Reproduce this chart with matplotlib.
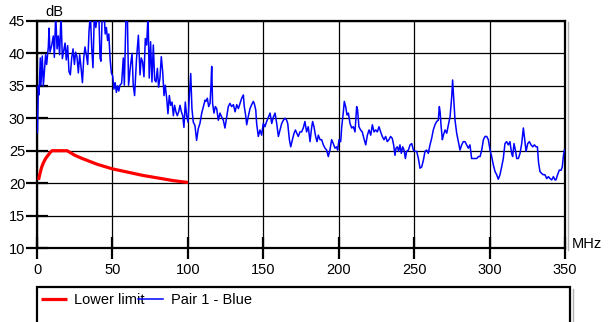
import matplotlib
matplotlib.use("Agg")
import matplotlib.pyplot as plt
from matplotlib.patches import Rectangle
from matplotlib.lines import Line2D

plt.rcParams['font.family'] = ['Liberation Sans', 'DejaVu Sans']

# limit line (return loss, dB)
limit_mhz = [1, 2, 3, 4, 5, 6, 7, 8, 9, 10, 20, 25, 30, 40, 50, 60, 70, 80, 90, 100]
limit_db = [20.5, 21.5, 22.4, 23.0, 23.5, 23.9, 24.2, 24.5, 24.8, 25.0, 25.0, 24.3,
            23.8, 22.9, 22.2, 21.7, 21.2, 20.8, 20.4, 20.1]

# measured pair 1 - blue
pair_mhz = [
    0.3, 0.9, 1.3, 2.2, 2.6, 3.5, 4.2, 4.9, 5.7, 6.4, 7.5, 8.0, 8.6, 9.7, 10.8, 11.5,
    12.4, 13.3, 14.1, 15.0, 15.9, 16.8, 17.7, 18.6, 19.4, 20.3, 21.2, 22.1, 23.0, 23.9,
    24.8, 25.6, 26.5, 27.4, 28.3, 29.2, 30.1, 31.0, 31.8, 32.7, 33.6, 34.5, 35.4, 36.3,
    37.1, 38.0, 39.0, 40.0, 41.0, 41.8, 42.4, 43.2, 44.5, 45.2, 46.0, 46.8, 47.6, 48.5,
    49.3, 50.2, 51.0, 51.8, 52.6, 53.4, 54.2,
    55.0, 56.1, 57.2, 57.9, 59.0, 59.9, 60.7, 62.0, 63.0, 63.8, 64.7, 66.0, 67.2, 68.3,
    69.1, 70.0, 70.9, 71.8, 72.7, 73.6, 74.4, 75.3, 76.2, 77.1, 78.0, 78.9, 79.8, 80.6,
    81.5, 82.4, 83.3, 84.2, 85.0, 86.0, 86.8, 87.7, 88.6, 89.5, 90.4, 91.2, 92.1, 93.0,
    93.9, 94.8, 95.7, 96.6, 97.4, 98.3, 99.2, 100.1, 101.0, 101.9, 102.7, 103.6, 104.7,
    105.8, 106.9,
    108.0, 109.2, 110.3, 111.4, 112.0, 112.9, 113.8, 114.7, 115.3, 115.8, 116.4, 117.3,
    118.2, 119.1, 120.2, 121.3, 122.4, 123.5, 124.6, 125.7, 126.8, 127.9, 129.0, 130.2,
    131.3, 132.4, 133.5, 134.6, 135.7, 136.8, 137.4, 138.3, 139.0, 140.0, 141.2, 142.3,
    143.4, 144.0, 145.0, 145.6, 146.7, 147.8, 148.9, 150.0, 151.1, 152.2, 153.4, 154.5,
    155.6, 156.7, 157.8, 158.9, 160.0, 161.1, 162.2, 163.3, 164.4, 165.5, 166.2, 167.3,
    168.2, 169.3, 170.4,
    171.3, 172.2, 173.2, 174.3, 175.4, 176.5, 177.6, 178.7, 179.8, 181.0, 182.0, 182.7,
    183.6, 184.7, 185.6, 186.5, 187.6, 188.7, 189.8, 190.9, 192.0, 193.1, 194.2, 195.3,
    196.4, 197.5, 198.6, 199.3, 200.2, 201.3, 202.0, 203.0, 203.7, 204.6, 205.5, 206.4,
    207.5, 208.6, 209.7, 210.8, 211.9, 212.5, 213.4, 214.5, 215.6, 216.7, 217.9, 219.0,
    220.1, 221.2, 222.3, 223.4, 224.5, 225.6, 226.7, 227.8, 228.9, 230.0, 231.1, 232.2,
    233.3,
    234.4, 235.5, 236.4, 237.3, 238.0, 238.9, 239.7, 240.6, 241.5, 242.4, 243.3, 244.2,
    245.0, 246.2, 247.3, 248.4, 249.5, 250.6, 251.7, 252.8, 253.9, 255.0, 256.1, 257.2,
    258.3, 259.4, 260.5, 261.6, 262.7, 263.8, 264.9, 266.0, 266.7, 267.2, 267.8, 268.7,
    269.4, 270.5, 271.6, 272.7, 273.8, 274.9, 275.5, 276.2, 277.1, 278.2, 279.3, 280.4,
    281.5, 282.6, 283.7, 284.8, 285.9, 287.0, 288.1, 289.2, 290.4, 291.5, 292.6, 293.7,
    294.8, 295.9, 297.0, 298.1, 299.2, 300.3, 301.4, 302.5, 303.6, 304.7, 305.8, 306.9,
    308.0, 309.1, 310.2, 311.3, 312.4, 313.5, 314.6, 315.3, 316.2, 317.1, 318.0, 319.1,
    320.2, 321.3, 322.4, 323.3, 324.2, 325.3, 326.4, 327.5, 328.6, 329.7, 330.8, 331.7,
    332.5, 333.4, 334.5, 335.6, 336.7, 337.9, 339.0, 340.1, 341.2, 342.3, 343.4, 344.0,
    345.1, 346.2, 347.4, 348.2, 349.0, 349.6,
]
pair_db = [
    27.8, 35.0, 33.6, 39.3, 35.1, 39.6, 35.0, 37.2, 39.8, 38.3, 41.0, 43.9, 40.2, 41.2, 42.7, 39.4,
    46.0, 40.7, 42.7, 39.8, 46.0, 39.2, 40.4, 41.6, 39.0, 41.2, 37.2, 36.7, 39.3, 40.7,
    38.3, 40.2, 39.5, 37.0, 39.8, 37.8, 35.5, 39.3, 41.0, 39.8, 38.3, 43.5, 46.0, 40.7,
    37.8, 46.0, 44.0, 46.0, 46.0, 39.3, 38.8, 46.0, 46.0, 43.0, 44.0, 42.0, 43.0, 39.0,
    37.0, 36.5, 34.5, 35.5, 34.0, 35.0, 34.2,
    35.1, 35.4, 39.3, 35.1, 46.0, 46.0, 35.1, 38.2, 40.0, 35.1, 33.5, 39.3, 42.8, 36.7,
    39.3, 38.7, 36.4, 42.3, 41.3, 46.0, 36.2, 41.8, 35.6, 41.3, 35.9, 35.6, 37.7, 34.8,
    36.2, 39.5, 37.2, 33.5, 35.1, 33.0, 30.7, 33.5, 32.0, 32.5, 30.4, 32.0, 31.0, 30.4,
    31.0, 32.0, 31.0, 30.4, 28.6, 32.5, 30.4, 29.4, 33.5, 36.9, 31.5, 29.4, 28.9,
    26.6, 28.4,
    29.2, 30.8, 31.8, 32.8, 32.6, 33.1, 31.8, 32.3, 34.9, 38.0, 32.3, 30.8,
    31.8, 31.5, 29.7, 30.8, 30.2, 29.7, 28.5, 30.2, 31.8, 32.3, 31.8, 32.1,
    31.0, 32.1, 31.5, 32.3, 33.1, 33.6, 31.8, 30.5, 29.0, 30.2, 31.5, 32.1,
    32.6, 32.3, 31.3, 29.2, 27.2, 28.2, 27.4, 29.2, 28.7, 29.5, 30.2, 30.8,
    29.2, 30.2, 30.8, 29.2, 27.2, 28.2, 29.2, 29.7, 30.0, 29.7, 29.2, 26.7,
    25.6, 26.7, 27.7,
    28.2, 27.7, 27.2, 27.9, 27.9, 28.5, 29.5, 27.9, 28.7, 26.4, 28.5, 29.5,
    28.7, 27.2, 26.4, 27.4, 26.7, 26.7, 25.9, 25.4, 25.1, 24.1, 25.1, 26.7,
    26.1, 25.4, 25.6, 25.1, 26.7, 26.4, 28.7, 30.8, 32.6, 31.8, 30.5, 30.8,
    29.2, 28.5, 28.7, 27.9, 31.8, 31.3, 28.7, 28.2, 27.9, 26.9, 25.9, 27.4,
    28.2, 27.4, 29.0, 27.9, 28.2, 27.9, 28.7, 27.9, 27.2, 26.7, 27.2, 26.4,
    26.7,
    27.2, 26.9, 25.9, 24.3, 25.4, 25.6, 24.9, 25.9, 24.6, 25.6, 25.1, 23.8,
    24.9, 25.1, 25.9, 26.1, 25.1, 24.9, 24.9, 23.8, 22.3, 22.5, 23.5, 24.9,
    25.1, 24.6, 25.9, 26.9, 28.2, 29.0, 29.5, 29.7, 31.8, 31.0, 29.0, 26.7,
    27.4, 28.2, 27.7, 29.0, 30.2, 33.3, 35.9, 33.3, 29.7, 27.7, 26.4, 25.1,
    25.9, 26.4, 26.4, 25.9, 25.4, 25.9, 23.8, 23.8, 23.8, 23.8, 24.1, 24.1,
    25.1, 26.7, 27.2, 27.2, 26.7, 25.1, 24.1, 22.8, 21.8, 21.3, 20.6, 21.3,
    22.5, 23.8, 26.1, 26.4, 25.9, 26.4, 24.6, 24.1, 26.1, 25.1, 23.8, 23.8,
    24.6, 26.1, 28.5, 26.7, 24.9, 26.1, 26.4, 25.9, 25.6, 25.9, 25.6, 25.6,
    23.1, 21.8, 21.5, 21.3, 21.3, 20.7, 21.0, 20.7, 20.5, 21.0, 20.5, 20.5,
    21.3, 22.0, 22.0, 22.5, 24.3, 25.1,
]

x_ticks = [0, 50, 100, 150, 200, 250, 300, 350]
y_ticks = [10, 15, 20, 25, 30, 35, 40, 45]

fig = plt.figure(figsize=(6.08, 3.22), dpi=100)
ax = fig.add_axes([37/608, 1 - 248/322, 528/608, 227/322])

red, = ax.plot(limit_mhz, limit_db, color='#ff0000', lw=2.3, label='Lower limit',
               solid_capstyle='butt', zorder=3)
blue, = ax.plot(pair_mhz, pair_db, color='#0000ff', lw=1.1, label='Pair 1 - Blue', zorder=4)

ax.set_xlim(0, 350)
ax.set_ylim(10, 45)
ax.set_xticks(x_ticks)
ax.set_yticks(y_ticks)
ax.grid(True, color='black', lw=0.9)
ax.set_axisbelow(True)
for s in ax.spines.values():
    s.set_linewidth(1.6)
    s.set_color('black')
ax.tick_params(axis='both', direction='inout', length=16, width=1.6, labelsize=10.5,
               colors='black')
ax.tick_params(axis='y', pad=0.5)
ax.tick_params(axis='x', pad=2.5)

ax.text(0.015, 1.01, 'dB', transform=ax.transAxes, fontsize=10.5, ha='left', va='bottom')
ax.text(1.012, 0.018, 'MHz', transform=ax.transAxes, fontsize=10.5, ha='left', va='center')

# grey drop shadow on the right edge of the plot frame
fig.add_artist(Line2D([567.5/608, 567.5/608], [1 - 250/322, 1 - 22/322],
                      transform=fig.transFigure, color='#b0b0b0', lw=1.0))

# legend box under the plot
fig.patches.append(Rectangle((37/608, -0.05), 533/608, 0.05 + (322 - 287)/322,
                             transform=fig.transFigure, fill=False, ec='black', lw=1.6))
fig.add_artist(Line2D([572.5/608, 572.5/608], [0, 1 - 289/322],
                      transform=fig.transFigure, color='#b0b0b0', lw=1.0))
fig.legend(handles=[red, blue], ncol=2, loc='center left',
           bbox_to_anchor=(41/608, 1 - 300/322), frameon=False, fontsize=10.5,
           handlelength=1.75, handletextpad=0.5, columnspacing=-0.45,
           borderpad=0, borderaxespad=0)

plt.savefig('out.png', dpi=100)
